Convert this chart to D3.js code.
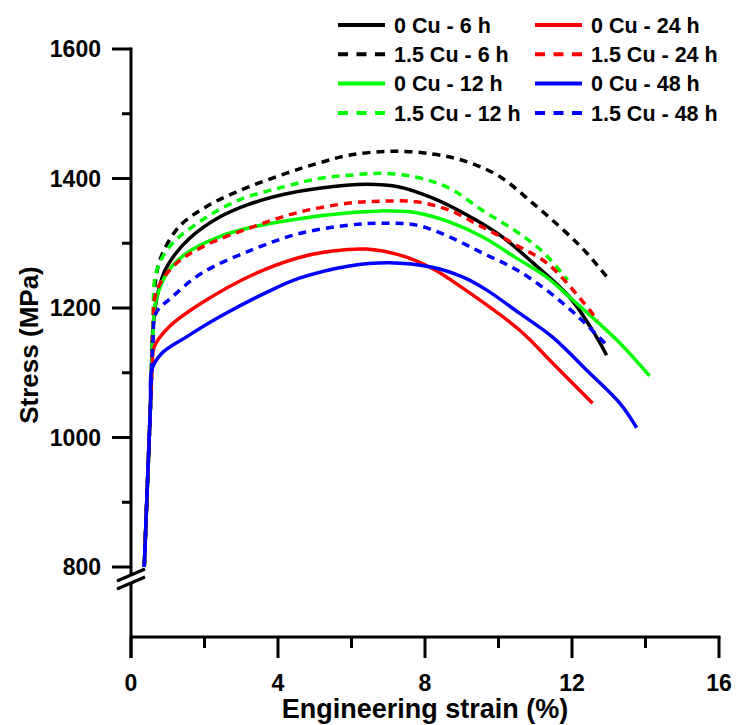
<!DOCTYPE html>
<html>
<head>
<meta charset="utf-8">
<script src="https://cdn.jsdelivr.net/npm/d3@7"></script>
<style>
  body { margin: 0; background: #fff; }
  text { font-family: "Liberation Sans", Arial, sans-serif; font-weight: bold; fill: #000; }
</style>
</head>
<body>
<svg id="chart" width="736" height="725"></svg>
<script>
// tick labels
var xMajor = [0, 4, 8, 12, 16];
var xMinor = [2, 6, 10, 14];
var yMajor = [800, 1000, 1200, 1400, 1600];
var yMinor = [900, 1100, 1300, 1500];

// series, [strain %, stress MPa]
var cu0_6h = [[0.36,800],[0.53,1050],[0.6,1170],[0.7,1215],[0.9,1255],[1.2,1283],[1.6,1308],[2.4,1340],[3.2,1360],[4.2,1376],[5.12,1385],[6.4,1391],[7.3,1387],[8.2,1370],[9.13,1344],[10.03,1313],[10.93,1270],[11.93,1217],[12.67,1155],[12.94,1127]];
var cu15_6h = [[0.36,800],[0.53,1050],[0.6,1175],[0.68,1248],[0.84,1282],[1.3,1325],[2.0,1355],[2.9,1380],[4.22,1408],[5.12,1424],[5.94,1436],[7.03,1442],[8.2,1438],[9.13,1426],[10.03,1403],[10.93,1362],[11.85,1316],[12.4,1285],[13.02,1243]];
var cu0_12h = [[0.36,800],[0.53,1050],[0.6,1165],[0.68,1212],[1.04,1259],[1.6,1288],[2.4,1310],[3.3,1325],[4.58,1338],[5.94,1347],[6.84,1350],[7.77,1347],[8.66,1333],[9.56,1310],[10.49,1277],[11.3,1248],[11.93,1217],[13.3,1146],[14.11,1095]];
var cu15_12h = [[0.36,800],[0.53,1050],[0.6,1175],[0.68,1254],[1.04,1294],[1.66,1325],[2.86,1365],[4.22,1388],[5.12,1400],[5.94,1405],[6.84,1408],[7.77,1402],[8.66,1385],[9.56,1351],[10.49,1318],[11.2,1287],[11.88,1243]];
var cu0_24h = [[0.36,800],[0.53,1050],[0.58,1110],[0.63,1140],[1.04,1171],[1.93,1208],[3.3,1251],[4.58,1278],[5.48,1288],[6.4,1291],[7.3,1282],[8.2,1261],[9.02,1231],[10.57,1166],[11.47,1115],[12.56,1053]];
var cu15_24h = [[0.36,800],[0.53,1050],[0.6,1165],[0.68,1223],[1.12,1263],[1.93,1294],[3.3,1325],[4.58,1348],[5.94,1362],[6.84,1365],[7.77,1364],[8.66,1351],[9.56,1325],[10.49,1297],[11.39,1266],[12.7,1181]];
var cu0_48h = [[0.36,800],[0.53,1050],[0.57,1105],[0.84,1130],[1.5,1155],[2.4,1186],[3.76,1226],[4.58,1246],[5.94,1265],[7.03,1270],[8.2,1263],[9.02,1248],[9.67,1228],[10.57,1192],[11.47,1155],[12.4,1104],[13.3,1053],[13.76,1015]];
var cu15_48h = [[0.36,800],[0.53,1050],[0.6,1150],[0.68,1192],[1.12,1217],[1.93,1254],[3.3,1290],[4.58,1315],[5.94,1328],[6.84,1331],[7.77,1328],[8.66,1310],[9.56,1285],[10.49,1259],[11.3,1228],[12.12,1189],[12.94,1143]];

var seriesNames = ["0 Cu - 6 h", "1.5 Cu - 6 h", "0 Cu - 12 h", "1.5 Cu - 12 h",
                   "0 Cu - 24 h", "1.5 Cu - 24 h", "0 Cu - 48 h", "1.5 Cu - 48 h"];
var seriesData = [cu0_6h, cu15_6h, cu0_12h, cu15_12h, cu0_24h, cu15_24h, cu0_48h, cu15_48h];
var seriesColors = ["#000000", "#000000", "#00ff00", "#00ff00", "#ff0000", "#ff0000", "#0000ff", "#0000ff"];
var seriesDashed = [false, true, false, true, false, true, false, true];

var svg = d3.select("#chart");

var x = d3.scaleLinear().domain([0, 16]).range([131, 719]);
var y = d3.scaleLinear().domain([800, 1600]).range([567, 49]);
var xAxisY = 637;   // x axis sits below the break
var breakY = 579;

var axes = svg.append("g").attr("stroke", "#000").attr("stroke-width", 3).attr("fill", "none");

// y axis line with break
axes.append("line").attr("x1", x(0)).attr("x2", x(0)).attr("y1", y(1600) - 1.5).attr("y2", breakY - 4);
axes.append("line").attr("x1", x(0)).attr("x2", x(0)).attr("y1", breakY + 4).attr("y2", xAxisY + 21);
[-4, 4].forEach(function(off) {
  axes.append("line")
    .attr("x1", x(0) - 14).attr("y1", breakY + off + 6)
    .attr("x2", x(0) + 14).attr("y2", breakY + off - 6);
});

// x axis line
axes.append("line").attr("x1", x(0)).attr("x2", x(16) + 1.5).attr("y1", xAxisY).attr("y2", xAxisY);

// y ticks
yMajor.forEach(function(v) {
  axes.append("line").attr("x1", x(0) - 19).attr("x2", x(0)).attr("y1", y(v)).attr("y2", y(v));
});
yMinor.forEach(function(v) {
  axes.append("line").attr("x1", x(0) - 9).attr("x2", x(0)).attr("y1", y(v)).attr("y2", y(v));
});
// x ticks
xMajor.forEach(function(v) {
  axes.append("line").attr("x1", x(v)).attr("x2", x(v)).attr("y1", xAxisY).attr("y2", xAxisY + 21);
});
xMinor.forEach(function(v) {
  axes.append("line").attr("x1", x(v)).attr("x2", x(v)).attr("y1", xAxisY).attr("y2", xAxisY + 11);
});

// tick labels
svg.append("g").selectAll("text").data(yMajor).enter().append("text")
  .attr("x", 101).attr("y", function(d) { return y(d); })
  .attr("dy", "0.36em").attr("text-anchor", "end")
  .style("font-size", "23px")
  .text(function(d) { return d; });

svg.append("g").selectAll("text").data(xMajor).enter().append("text")
  .attr("x", function(d) { return x(d); }).attr("y", 691)
  .attr("text-anchor", "middle")
  .style("font-size", "23px")
  .text(function(d) { return d; });

// axis titles
svg.append("text")
  .attr("x", x(8)).attr("y", 718)
  .attr("text-anchor", "middle")
  .style("font-size", "27px")
  .text("Engineering strain (%)");

svg.append("text")
  .attr("transform", "translate(38,345) rotate(-90)")
  .attr("text-anchor", "middle")
  .style("font-size", "26px")
  .text("Stress (MPa)");

// curves
var line = d3.line()
  .x(function(d) { return x(d[0]); })
  .y(function(d) { return y(d[1]); })
  .curve(d3.curveCatmullRom.alpha(0.5));

svg.append("g").selectAll("path").data(seriesData).enter().append("path")
  .attr("d", line)
  .attr("fill", "none")
  .attr("stroke", function(d, i) { return seriesColors[i]; })
  .attr("stroke-width", 3.5)
  .attr("stroke-dasharray", function(d, i) { return seriesDashed[i] ? "8,6" : null; });

// legend, two columns of four
var legendOrder = [0, 1, 2, 3, 4, 5, 6, 7];
var legend = svg.append("g").selectAll("g").data(legendOrder).enter().append("g")
  .attr("transform", function(d, i) {
    var col = Math.floor(i / 4), row = i % 4;
    return "translate(" + (338 + col * 197) + "," + (25 + row * 29.3) + ")";
  });

legend.append("line")
  .attr("x1", 0).attr("x2", 47).attr("y1", 0).attr("y2", 0)
  .attr("stroke", function(d) { return seriesColors[d]; })
  .attr("stroke-width", 4)
  .attr("stroke-dasharray", function(d) { return seriesDashed[d] ? "10,8.5" : null; });

legend.append("text")
  .attr("x", 56).attr("y", 0).attr("dy", "0.36em")
  .style("font-size", "21.5px")
  .text(function(d) { return seriesNames[d]; });
</script>
</body>
</html>
